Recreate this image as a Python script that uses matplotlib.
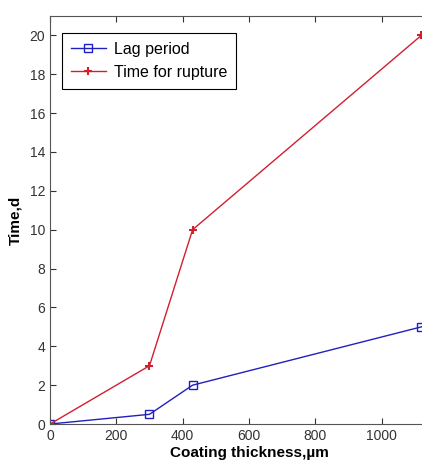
import matplotlib
matplotlib.use('Agg')
import matplotlib.pyplot as plt

thickness = [0, 300, 430, 1120]
lag_period = [0, 0.5, 2, 5]
rupture_time = [0, 3, 10, 20]

plt.rcParams['font.family'] = ['Liberation Sans Narrow', 'Liberation Sans', 'DejaVu Sans']

fig = plt.figure(figsize=(4.22, 4.67), dpi=100)
# right edge of the axes lies outside the figure, as in the cropped original
ax = fig.add_axes([0.1185, 0.092, 0.943, 0.874])

ax.plot(thickness, lag_period, color='#2020c0', marker='s', markersize=6,
        markerfacecolor='none', markeredgecolor='#2020c0', lw=1, label='Lag period')
ax.plot(thickness, rupture_time, color='#d02030', marker='+', markersize=6,
        mew=1.5, lw=1, label='Time for rupture')

ax.set_xlim(0, 1200)
ax.set_ylim(0, 21)
ax.set_xticks(range(0, 1001, 200))
ax.set_yticks(range(0, 21, 2))
ax.tick_params(direction='in', top=True, right=True, labelsize=10, length=4, colors='#333333')
for s in ax.spines.values():
    s.set_color('#555555')

ax.set_xlabel('Coating thickness,\u00b5m', fontsize=11, fontweight='bold', labelpad=2)
ax.set_ylabel('Time,d', fontsize=11, fontweight='bold', labelpad=5)

leg = ax.legend(loc='upper left', bbox_to_anchor=(0.03, 0.958), borderaxespad=0,
                fontsize=11.5, fancybox=False, edgecolor='black', framealpha=1,
                handlelength=2.2, handletextpad=0.5, borderpad=0.55, labelspacing=0.5)
leg.get_frame().set_linewidth(0.8)

fig.savefig('out.png', dpi=100)
